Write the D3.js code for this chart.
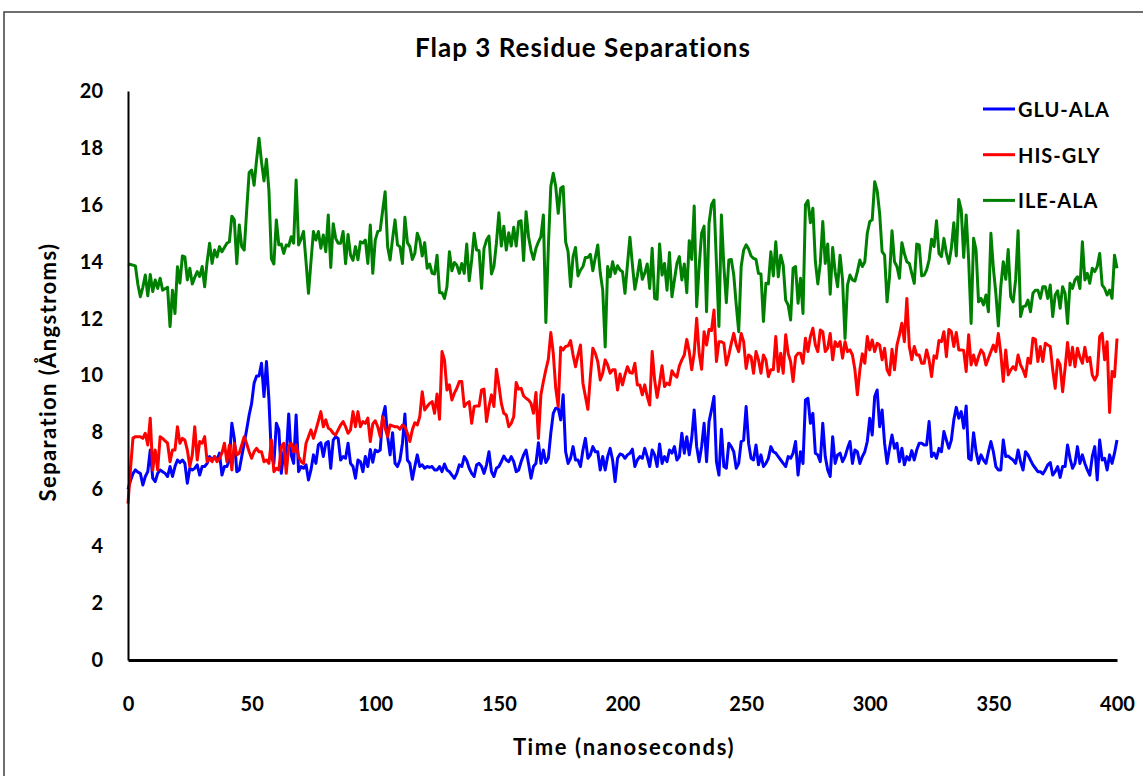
<!DOCTYPE html>
<html>
<head>
<meta charset="utf-8">
<script src="https://cdn.jsdelivr.net/npm/d3@7"></script>
<style>
  body { margin: 0; background: #fff; }
  svg { display: block; }
  .axis text { font-family: Lato, "DejaVu Sans", sans-serif; font-weight: 700; font-size: 20px; fill: #000; }
</style>
</head>
<body>
<script>
(function(){

    //chart data: time in nanoseconds, separations in angstroms
    var timeNs = d3.range(0, 401);
    var xTicks = [0, 50, 100, 150, 200, 250, 300, 350, 400];
    var yTicks = [0, 2, 4, 6, 8, 10, 12, 14, 16, 18, 20];
    var seriesNames = ["GLU-ALA", "HIS-GLY", "ILE-ALA"];
    var seriesColors = ["#0000ff", "#ff0000", "#008000"];

    var gluAla = [
        6.0,6.3,6.55,6.68,6.6,6.56,6.15,6.45,6.62,7.38,
        6.39,6.27,6.56,6.68,6.62,6.56,6.45,6.8,6.45,6.8,
        7.03,6.94,7.03,6.91,6.21,6.74,6.68,6.74,6.86,6.5,
        6.8,6.8,6.91,7.15,7.03,7.15,7.03,7.27,6.5,6.8,
        6.8,7.03,8.32,7.79,6.62,6.68,7.15,7.62,8.1,8.61,
        9.02,9.73,9.98,9.98,10.43,9.26,10.49,9.14,7.15,6.91,
        8.32,8.09,6.56,7.32,7.15,8.65,7.21,6.91,8.61,6.62,
        6.8,6.74,6.86,6.33,6.68,7.21,6.91,7.56,7.64,7.15,
        7.62,7.68,6.74,7.73,7.85,7.79,7.03,7.15,7.09,7.62,
        6.91,6.8,6.39,7.03,6.97,6.62,7.15,6.8,7.4,6.95,
        7.38,7.32,7.38,8.55,8.91,7.85,7.21,7.99,6.91,6.8,
        7.03,7.62,8.65,7.03,6.91,6.35,6.8,7.21,6.8,6.86,
        6.74,6.8,6.77,6.8,6.68,6.68,6.8,6.62,6.89,6.68,
        6.62,6.5,6.39,6.56,6.86,6.8,7.15,7.01,6.74,6.56,
        6.45,6.86,6.91,6.8,6.56,6.86,7.32,6.62,6.45,6.74,
        6.8,6.97,7.17,7.03,6.97,7.15,6.97,6.62,6.68,6.97,
        7.21,7.38,6.91,6.39,6.8,6.91,7.64,6.91,7.38,6.94,
        7.09,7.97,8.67,8.85,8.85,8.44,9.32,7.32,6.91,7.09,
        7.5,7.03,7.03,6.8,7.38,7.79,7.09,7.21,7.5,7.32,
        7.32,6.68,7.15,6.68,7.15,7.44,7.03,6.27,7.09,7.24,
        7.21,7.09,7.21,7.27,7.41,6.8,7.03,7.15,7.09,7.44,
        7.15,6.8,7.38,7.21,6.8,7.59,6.91,7.15,6.97,7.38,
        7.27,7.5,7.03,7.15,7.97,7.27,7.85,7.21,7.8,8.79,
        7.5,6.97,7.5,8.32,6.97,8.38,8.79,9.26,6.97,6.5,
        8.11,6.8,6.74,7.62,7.5,7.32,6.74,6.91,7.68,7.73,
        8.91,7.62,7.09,7.03,7.56,6.86,7.21,6.8,6.91,7.09,
        7.5,7.32,7.27,7.15,7.03,6.91,6.8,7.15,7.09,7.27,
        7.68,6.5,7.32,6.91,9.14,9.2,8.32,8.67,7.27,7.21,
        6.97,8.32,7.15,6.68,6.45,7.85,6.91,7.21,7.27,6.97,
        7.15,7.44,7.68,6.91,7.38,7.32,6.91,7.15,7.32,7.68,
        8.5,7.91,9.26,9.49,8.2,8.79,7.62,6.91,7.44,7.91,
        7.44,7.62,6.97,7.44,6.86,7.15,7.03,7.36,7.03,7.38,
        7.62,7.62,7.56,7.56,8.38,7.15,7.27,7.09,7.44,7.32,
        8.03,7.73,7.44,7.73,8.44,8.88,8.5,8.73,8.15,8.93,
        7.09,7.03,7.99,7.32,6.91,7.21,7.03,6.91,7.32,7.68,
        7.32,6.8,6.68,6.68,7.73,7.15,7.17,7.09,7.03,6.91,
        7.38,6.97,6.68,7.32,7.21,7.03,6.86,6.74,6.62,6.62,
        6.54,6.68,6.86,6.94,6.5,6.62,6.8,6.42,6.8,6.8,
        7.56,7.09,6.74,6.91,7.5,6.91,7.21,6.91,6.68,6.5,
        7.15,7.5,6.33,7.73,7.03,7.09,6.68,7.21,6.91,7.27,
        7.73
    ];

    var hisGly = [
        5.5,6.7,7.8,7.85,7.85,7.85,7.79,7.97,7.56,8.5,
        6.68,7.38,6.68,7.85,7.79,7.7,7.62,6.97,7.38,7.38,
        8.2,7.62,7.79,7.73,7.38,6.8,7.21,8.2,7.03,7.68,
        7.62,7.85,6.97,7.09,6.97,7.15,6.97,7.09,7.27,7.62,
        6.97,7.56,6.68,7.62,7.21,7.27,7.56,7.85,7.6,7.32,
        7.09,7.32,7.44,7.32,7.32,6.97,7.03,6.91,7.73,6.62,
        6.74,6.68,7.5,7.62,6.56,7.5,7.62,7.32,7.56,7.15,
        6.97,6.91,7.62,7.85,8.09,7.79,8.09,8.4,8.73,8.2,
        8.44,8.15,8.09,7.97,7.91,8.09,8.26,8.38,8.2,7.97,
        8.09,8.73,8.2,8.73,8.2,8.38,8.32,8.5,7.68,8.3,
        8.41,8.2,7.85,8.55,8.15,7.85,8.26,8.23,8.2,8.2,
        8.11,8.26,8.2,7.97,7.68,8.09,8.34,8.26,8.55,9.43,
        8.79,8.91,9.02,9.08,8.67,9.35,8.46,10.84,10.55,9.49,
        9.67,9.14,9.38,9.55,9.79,9.79,8.91,9.02,9.08,8.32,
        8.91,8.93,8.93,9.49,9.52,8.38,8.91,9.32,8.91,10.22,
        9.67,9.02,8.67,8.61,8.2,8.32,8.55,9.75,9.52,9.55,
        9.28,9.2,9.14,9.02,8.67,9.4,7.79,9.32,9.79,10.2,
        10.57,11.51,10.78,9.55,8.91,10.99,10.9,11.02,11.04,11.23,
        10.72,10.31,10.72,11.07,9.73,9.26,8.81,9.96,10.96,10.78,
        10.49,9.84,10.08,10.55,10.37,10.08,10.2,10.2,9.49,10.05,
        9.67,10.02,10.31,10.1,10.08,10.43,9.67,9.67,9.32,9.67,
        9.26,8.96,10.84,9.84,9.23,9.73,10.34,9.61,9.73,9.67,
        10.17,10.02,9.94,10.34,10.55,10.72,11.27,10.84,10.2,10.78,
        12.01,10.78,10.22,11.54,11.07,11.62,11.58,12.3,10.49,11.19,
        11.19,11.13,10.37,10.72,11.13,11.48,11.07,10.84,11.48,11.19,
        10.25,10.72,10.66,10.08,10.84,10.55,10.08,10.72,10.55,9.96,
        10.2,10.2,11.37,10.14,10.78,10.08,11.43,10.78,10.49,9.79,
        10.66,10.78,10.78,10.43,11.31,10.84,11.37,11.66,11.07,10.84,
        11.6,11.54,10.84,10.96,11.48,10.55,11.19,11.02,11.19,10.61,
        11.19,10.84,10.9,10.72,10.2,9.32,10.2,10.76,10.43,11.37,
        10.9,11.25,10.84,11.13,11.07,10.55,10.96,10.2,10.02,10.92,
        10.2,11.07,11.43,11.84,11.19,12.71,11.02,10.55,11.02,10.72,
        10.72,10.43,10.43,10.9,10.55,9.96,10.69,10.61,11.23,11.19,
        11.54,10.66,11.62,11.54,11.02,11.51,10.9,10.9,10.88,10.14,
        11.43,10.37,10.72,10.37,10.66,10.9,10.78,10.37,10.61,10.84,
        11.07,10.84,11.48,10.78,9.79,10.9,10.02,10.2,10.31,10.2,
        10.72,10.37,10.2,9.96,10.61,10.43,11.31,11.27,10.49,11.02,
        10.49,11.13,11.07,11.02,10.2,9.55,10.55,10.37,9.43,10.25,
        11.16,10.37,10.99,10.31,10.96,10.64,10.43,10.99,10.49,10.64,
        10.02,9.84,10.02,11.37,11.48,10.55,11.19,8.7,10.14,9.96,
        11.3
    ];

    var ileAla = [
        13.92,13.9,13.88,13.85,13.2,12.77,13.1,13.53,12.8,13.55,
        12.95,13.36,13.06,13.42,13.0,13.05,13.1,11.72,13.0,12.18,
        13.82,13.25,14.2,14.17,13.36,13.77,13.22,13.45,13.65,13.48,
        13.83,13.12,14.0,14.65,13.94,14.41,14.17,14.53,14.35,14.5,
        14.65,14.7,15.6,15.47,13.93,15.29,14.53,14.41,15.8,17.13,
        17.22,16.69,17.57,18.34,17.5,16.84,17.6,16.5,14.1,13.92,
        15.47,14.59,14.62,14.29,14.59,14.55,14.88,14.65,16.87,14.59,
        14.8,15.06,14.0,12.89,14.0,15.06,14.76,15.06,14.47,14.94,
        14.35,15.64,13.8,15.33,14.82,14.65,14.65,15.06,13.93,14.96,
        14.23,14.05,14.53,14.07,14.7,14.66,14.76,13.94,15.29,13.59,
        14.76,15.06,15.11,15.8,16.46,14.53,14.06,14.8,15.47,14.59,
        14.53,13.94,15.56,14.67,14.53,14.08,14.29,15.0,14.76,14.2,
        14.67,13.77,13.92,13.59,13.57,14.23,12.91,12.91,12.71,13.12,
        14.35,13.68,13.97,13.88,13.59,13.94,13.59,14.62,13.33,14.06,
        15.0,14.41,14.39,13.06,14.47,14.76,14.9,13.57,13.83,14.65,
        15.72,14.55,15.25,14.41,15.02,14.55,15.21,14.55,15.41,15.44,
        14.04,15.76,14.88,14.4,14.08,14.47,14.7,14.88,15.64,11.86,
        14.5,16.64,17.11,16.64,15.7,16.58,16.64,14.7,14.35,13.12,
        14.18,14.5,13.5,13.7,13.83,14.15,14.15,14.26,13.68,14.15,
        14.59,13.61,13.0,11.0,13.83,13.47,14.0,13.59,13.86,13.71,
        13.65,12.89,13.9,14.86,13.9,13.03,13.5,14.06,13.38,13.6,
        13.92,13.06,14.47,12.71,12.68,14.62,13.53,13.94,13.0,14.32,
        12.77,13.36,13.94,14.18,13.36,13.92,12.91,14.74,14.08,15.96,
        12.42,13.83,15.0,15.25,12.24,15.35,16.0,16.17,13.94,11.72,
        15.64,13.83,12.56,14.06,14.08,13.53,12.48,11.54,13.83,14.41,
        14.59,14.45,14.2,14.12,14.08,13.59,13.57,11.9,13.24,13.22,
        14.35,13.5,14.7,13.47,14.23,13.88,12.65,12.48,11.95,13.77,
        13.83,12.54,13.42,12.18,16.0,16.15,15.37,15.88,14.0,13.22,
        13.94,15.41,13.94,14.62,12.86,14.5,13.65,13.12,14.23,13.36,
        11.3,13.18,13.53,13.36,13.32,13.65,14.06,13.83,14.0,15.0,
        15.41,15.47,16.81,16.5,15.7,14.35,14.23,12.59,13.47,15.09,
        14.0,13.83,13.42,14.67,14.29,14.0,13.94,13.59,13.24,14.62,
        14.59,13.5,13.53,13.71,14.06,14.79,14.53,15.44,14.29,14.18,
        14.82,14.29,13.94,14.47,15.37,14.2,16.19,15.82,14.15,15.64,
        14.06,11.83,14.82,14.41,12.59,12.71,12.48,12.83,12.24,15.0,
        13.77,12.89,11.74,13.12,14.0,13.38,14.43,12.77,12.59,13.36,
        15.09,12.07,12.42,12.44,12.65,12.24,12.89,13.0,13.0,12.71,
        13.12,13.12,12.71,13.18,12.07,12.83,12.98,12.36,13.12,12.89,
        11.83,13.24,13.06,13.36,13.47,13.06,14.7,13.36,13.59,13.24,
        13.77,13.65,13.83,14.29,13.18,13.06,12.83,13.0,12.71,14.23,
        13.77
    ];

    var seriesValues = [gluAla, hisGly, ileAla];

    window.onload = setChart();

    function setChart(){

        var width = 1143,
            height = 776;

        var svg = d3.select("body")
            .append("svg")
            .attr("width", width)
            .attr("height", height);

        //outer chart frame
        svg.append("rect")
            .attr("x", 4)
            .attr("y", 12)
            .attr("width", 1160)
            .attr("height", 800)
            .attr("fill", "#fff")
            .attr("stroke", "#404040")
            .attr("stroke-width", 1.5);

        var x = d3.scaleLinear().domain([0, 400]).range([128, 1117]);
        var y = d3.scaleLinear().domain([0, 20]).range([660, 91]);

        //title
        svg.append("text")
            .attr("x", 583)
            .attr("y", 47)
            .attr("text-anchor", "middle")
            .attr("dominant-baseline", "central")
            .style("font-family", "Lato, sans-serif")
            .style("font-weight", 700)
            .style("font-size", "26px")
            .style("letter-spacing", "1px")
            .text("Flap 3 Residue Separations");

        //lines
        var line = d3.line()
            .x(function(d){ return x(d[0]); })
            .y(function(d){ return y(d[1]); });

        seriesValues.forEach(function(vals, i){
            var pts = timeNs.map(function(t, k){ return [t, vals[k]]; })
                .filter(function(p){ return p[1] != null; });
            svg.append("path")
                .datum(pts)
                .attr("fill", "none")
                .attr("stroke", seriesColors[i])
                .attr("stroke-width", 3)
                .attr("stroke-linejoin", "round")
                .attr("d", line);
        });

        //axes
        var yAxis = svg.append("g")
            .attr("class", "axis")
            .attr("transform", "translate(128,0)")
            .call(d3.axisLeft(y).tickValues(yTicks).tickSize(0).tickPadding(25));
        yAxis.select(".domain").attr("stroke", "#000").attr("stroke-width", 2);

        var xAxis = svg.append("g")
            .attr("class", "axis")
            .attr("transform", "translate(0,660)")
            .call(d3.axisBottom(x).tickValues(xTicks).tickSize(0).tickPadding(37));
        xAxis.select(".domain").attr("stroke", "#000").attr("stroke-width", 3);

        //axis titles
        svg.append("text")
            .attr("x", 624)
            .attr("y", 746)
            .attr("text-anchor", "middle")
            .attr("dominant-baseline", "central")
            .style("font-family", "Lato, sans-serif")
            .style("font-weight", 700)
            .style("font-size", "22px")
            .style("letter-spacing", "1.6px")
            .text("Time (nanoseconds)");

        svg.append("text")
            .attr("transform", "translate(47,372) rotate(-90)")
            .attr("text-anchor", "middle")
            .attr("dominant-baseline", "central")
            .style("font-family", "Lato, sans-serif")
            .style("font-weight", 700)
            .style("font-size", "22px")
            .style("letter-spacing", "1.4px")
            .text("Separation (Ångstroms)");

        //legend
        var legend = svg.selectAll(".legend")
            .data(seriesNames)
            .enter()
            .append("g")
            .attr("class", "legend")
            .attr("transform", function(d, i){ return "translate(983," + (109 + i * 45.7) + ")"; });

        legend.append("line")
            .attr("x1", 0)
            .attr("x2", 32)
            .attr("stroke", function(d, i){ return seriesColors[i]; })
            .attr("stroke-width", 3);

        legend.append("text")
            .attr("x", 35)
            .attr("dominant-baseline", "central")
            .style("font-family", "Lato, sans-serif")
            .style("font-weight", 700)
            .style("font-size", "20px")
            .style("letter-spacing", "1px")
            .text(function(d){ return d; });
    };

})();
</script>
</body>
</html>
